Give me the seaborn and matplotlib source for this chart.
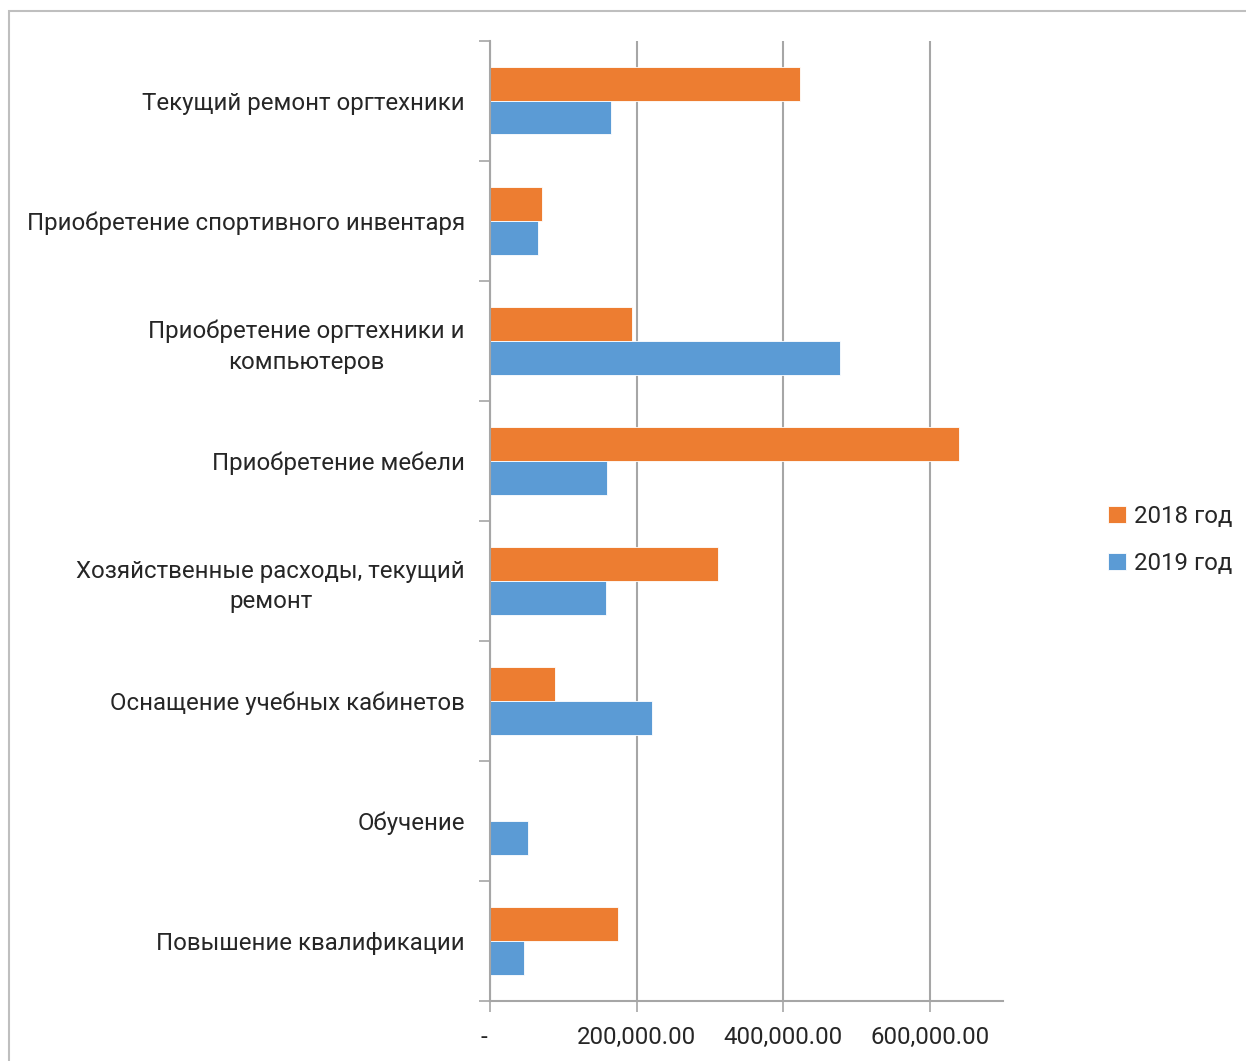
import numpy as np
import pandas as pd
import matplotlib
matplotlib.use("Agg")
import matplotlib.pyplot as plt
import seaborn as sns
from matplotlib.patches import Rectangle
from matplotlib.ticker import FixedLocator, FuncFormatter

# Data (rubles)
categories = [
    "Текущий ремонт оргтехники",
    "Приобретение спортивного инвентаря",
    "Приобретение оргтехники и\nкомпьютеров",
    "Приобретение мебели",
    "Хозяйственные расходы, текущий\nремонт",
    "Оснащение учебных кабинетов",
    "Обучение",
    "Повышение квалификации",
]
values_2018 = [423000, 70900, 193100, 640600, 311400, 89300, 0, 174500]
values_2019 = [165600, 65400, 478000, 160300, 158900, 221200, 51400, 46700]
series_names = ["2018 год", "2019 год"]
colors = {"2018 год": "#ED7D31", "2019 год": "#5B9BD5"}

df = pd.DataFrame({
    "category": categories * 2,
    "value": values_2018 + values_2019,
    "series": [series_names[0]] * len(categories) + [series_names[1]] * len(categories),
})

sns.set_style("white")
plt.rcParams["font.family"] = ["Roboto", "DejaVu Sans"]
FS = 17.3
GRID = "#A6A6A6"

W, H = 1246, 1061
fig = plt.figure(figsize=(W / 100, H / 100), dpi=100)
ax = fig.add_axes([490 / W, 1 - 1001 / H, (1003 - 490) / W, (1001 - 40.5) / H])

sns.barplot(data=df, x="value", y="category", hue="series",
            order=categories, hue_order=series_names, palette=colors,
            saturation=1, width=0.565, orient="h", edgecolor="white",
            linewidth=0.6, legend=True, ax=ax)

ax.set_xlim(0, 700000)
ax.set_ylim(len(categories) - 0.5, -0.5)
ax.set_xlabel("")
ax.set_ylabel("")

# x axis: gridlines at 200k steps, accounting-style labels
ax.xaxis.set_major_locator(FixedLocator([0, 200000, 400000, 600000]))
ax.xaxis.set_major_formatter(FuncFormatter(
    lambda v, p: "-  " if v == 0 else f"{v:,.2f}"))
ax.grid(axis="x", color=GRID, linewidth=1.5)
ax.grid(axis="y", visible=False)
ax.set_axisbelow(True)
ax.tick_params(axis="x", which="major", direction="out", length=8, width=1.2,
               color=GRID, labelsize=FS, pad=10, bottom=True)

# y axis: labels at category centres, tick marks between categories
ax.yaxis.set_minor_locator(FixedLocator(np.arange(-0.5, len(categories), 1.0)))
ax.tick_params(axis="y", which="minor", direction="out", length=8, width=1.2,
               color=GRID, left=True)
ax.tick_params(axis="y", which="major", length=0, labelsize=FS, pad=18)
for lbl in ax.get_yticklabels():
    lbl.set_multialignment("center")
    lbl.set_linespacing(1.4)

for side in ["top", "right"]:
    ax.spines[side].set_visible(False)
for side in ["left", "bottom"]:
    ax.spines[side].set_color(GRID)
    ax.spines[side].set_linewidth(1.5)

# legend to the right of the plot
handles, labels = ax.get_legend_handles_labels()
ax.legend(handles, labels, loc="center left", bbox_to_anchor=(1108 / W, 1 - 540 / H),
          bbox_transform=fig.transFigure, frameon=False, fontsize=FS, borderpad=0,
          borderaxespad=0, handlelength=0.75, handleheight=0.75, handletextpad=0.35,
          labelspacing=1.0)

# chart frame
fig.add_artist(Rectangle((9 / W, -0.1), 1.2, 1 - 11 / H + 0.1, transform=fig.transFigure,
                         fill=False, edgecolor="#BFBFBF", linewidth=1.5))

fig.savefig("out.png", dpi=100)
